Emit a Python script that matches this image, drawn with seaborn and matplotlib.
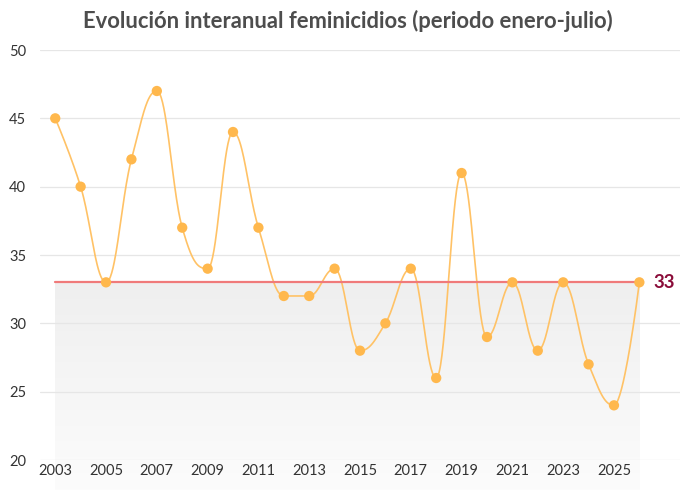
import numpy as np
import matplotlib
matplotlib.use("Agg")
import matplotlib.pyplot as plt
import seaborn as sns

years = list(range(2003, 2027))
casos = [45, 40, 33, 42, 47, 37, 34, 44, 37, 32, 32, 34, 28, 30, 34, 26, 41, 29, 33, 28, 33, 27, 24, 33]
referencia = 33
titulo = "Evolución interanual feminicidios (periodo enero-julio)"
xticks = list(range(2003, 2026, 2))
yticks = [20, 25, 30, 35, 40, 45, 50]


def spline_hc(xs, ys, smoothing=1.5, n=40):
    # curva tipo spline (bezier con puntos de control como highcharts)
    m = len(xs)
    lc = [(xs[i], ys[i]) for i in range(m)]
    rc = [(xs[i], ys[i]) for i in range(m)]
    d = smoothing + 1
    for i in range(1, m - 1):
        px, py = xs[i], ys[i]
        lx, ly = xs[i - 1], ys[i - 1]
        nx, ny = xs[i + 1], ys[i + 1]
        lcx = (smoothing * px + lx) / d
        lcy = (smoothing * py + ly) / d
        rcx = (smoothing * px + nx) / d
        rcy = (smoothing * py + ny) / d
        if rcx != lcx:
            corr = (rcy - lcy) * (rcx - px) / (rcx - lcx) + py - rcy
            lcy += corr
            rcy += corr
        if lcy > ly and lcy > py:
            lcy = max(ly, py)
            rcy = 2 * py - lcy
        elif lcy < ly and lcy < py:
            lcy = min(ly, py)
            rcy = 2 * py - lcy
        if rcy > ny and rcy > py:
            rcy = max(ny, py)
            lcy = 2 * py - rcy
        elif rcy < ny and rcy < py:
            rcy = min(ny, py)
            lcy = 2 * py - rcy
        lc[i] = (lcx, lcy)
        rc[i] = (rcx, rcy)
    t = np.linspace(0, 1, n)
    outx, outy = [], []
    for i in range(1, m):
        p0 = np.array([xs[i - 1], ys[i - 1]])
        p1 = np.array(rc[i - 1])
        p2 = np.array(lc[i])
        p3 = np.array([xs[i], ys[i]])
        pts = ((1 - t) ** 3)[:, None] * p0 + (3 * (1 - t) ** 2 * t)[:, None] * p1 \
            + (3 * (1 - t) * t ** 2)[:, None] * p2 + (t ** 3)[:, None] * p3
        outx.extend(pts[:, 0])
        outy.extend(pts[:, 1])
    return np.array(outx), np.array(outy)


sns.set_theme(style="white")
plt.rcParams["font.family"] = ["Lato", "DejaVu Sans"]

fig = plt.figure(figsize=(7, 4.9), dpi=100)
ax = fig.add_axes([40 / 700, 30 / 490, 640 / 700, 410 / 490])

ax.set_xlim(2002.4, 2027.6)
ax.set_ylim(20, 50)

# fondo degradado bajo la referencia
grad = np.linspace(0, 1, 100).reshape(-1, 1)
img = ax.imshow(grad, extent=[years[0], years[-1], 17.8, referencia], aspect="auto",
                cmap=matplotlib.colors.LinearSegmentedColormap.from_list("g", ["#fcfcfc", "#efefef"]),
                origin="lower", zorder=0)
img.set_clip_on(False)

for y in yticks:
    ax.axhline(y, color="#e6e6e6", lw=0.9, zorder=1)

cx, cy = spline_hc(years, casos)
ax.plot(cx, cy, color="#ffc266", lw=1.2, zorder=3)
ax.plot([years[0], years[-1]], [referencia, referencia], color="#f07a7a", lw=1.6, zorder=4)
sns.scatterplot(x=years, y=casos, ax=ax, color="#ffb84d", s=55, edgecolor="none", zorder=5)

ax.text(years[-1] + 0.55, referencia, str(referencia), color="#8b0d3a", fontsize=13.5,
        fontweight="bold", va="center", ha="left")

ax.set_xticks(xticks)
ax.set_yticks(yticks)
ax.tick_params(axis="both", length=0, labelsize=10.5, colors="#333333")
ax.tick_params(axis="x", pad=3)
ax.tick_params(axis="y", pad=10)
for s in ax.spines.values():
    s.set_visible(False)

fig.text(0.497, 0.958, titulo, ha="center", va="center", fontsize=15.8, fontweight="bold",
         color="#4d4d4d")

fig.savefig("out.png", dpi=100)
